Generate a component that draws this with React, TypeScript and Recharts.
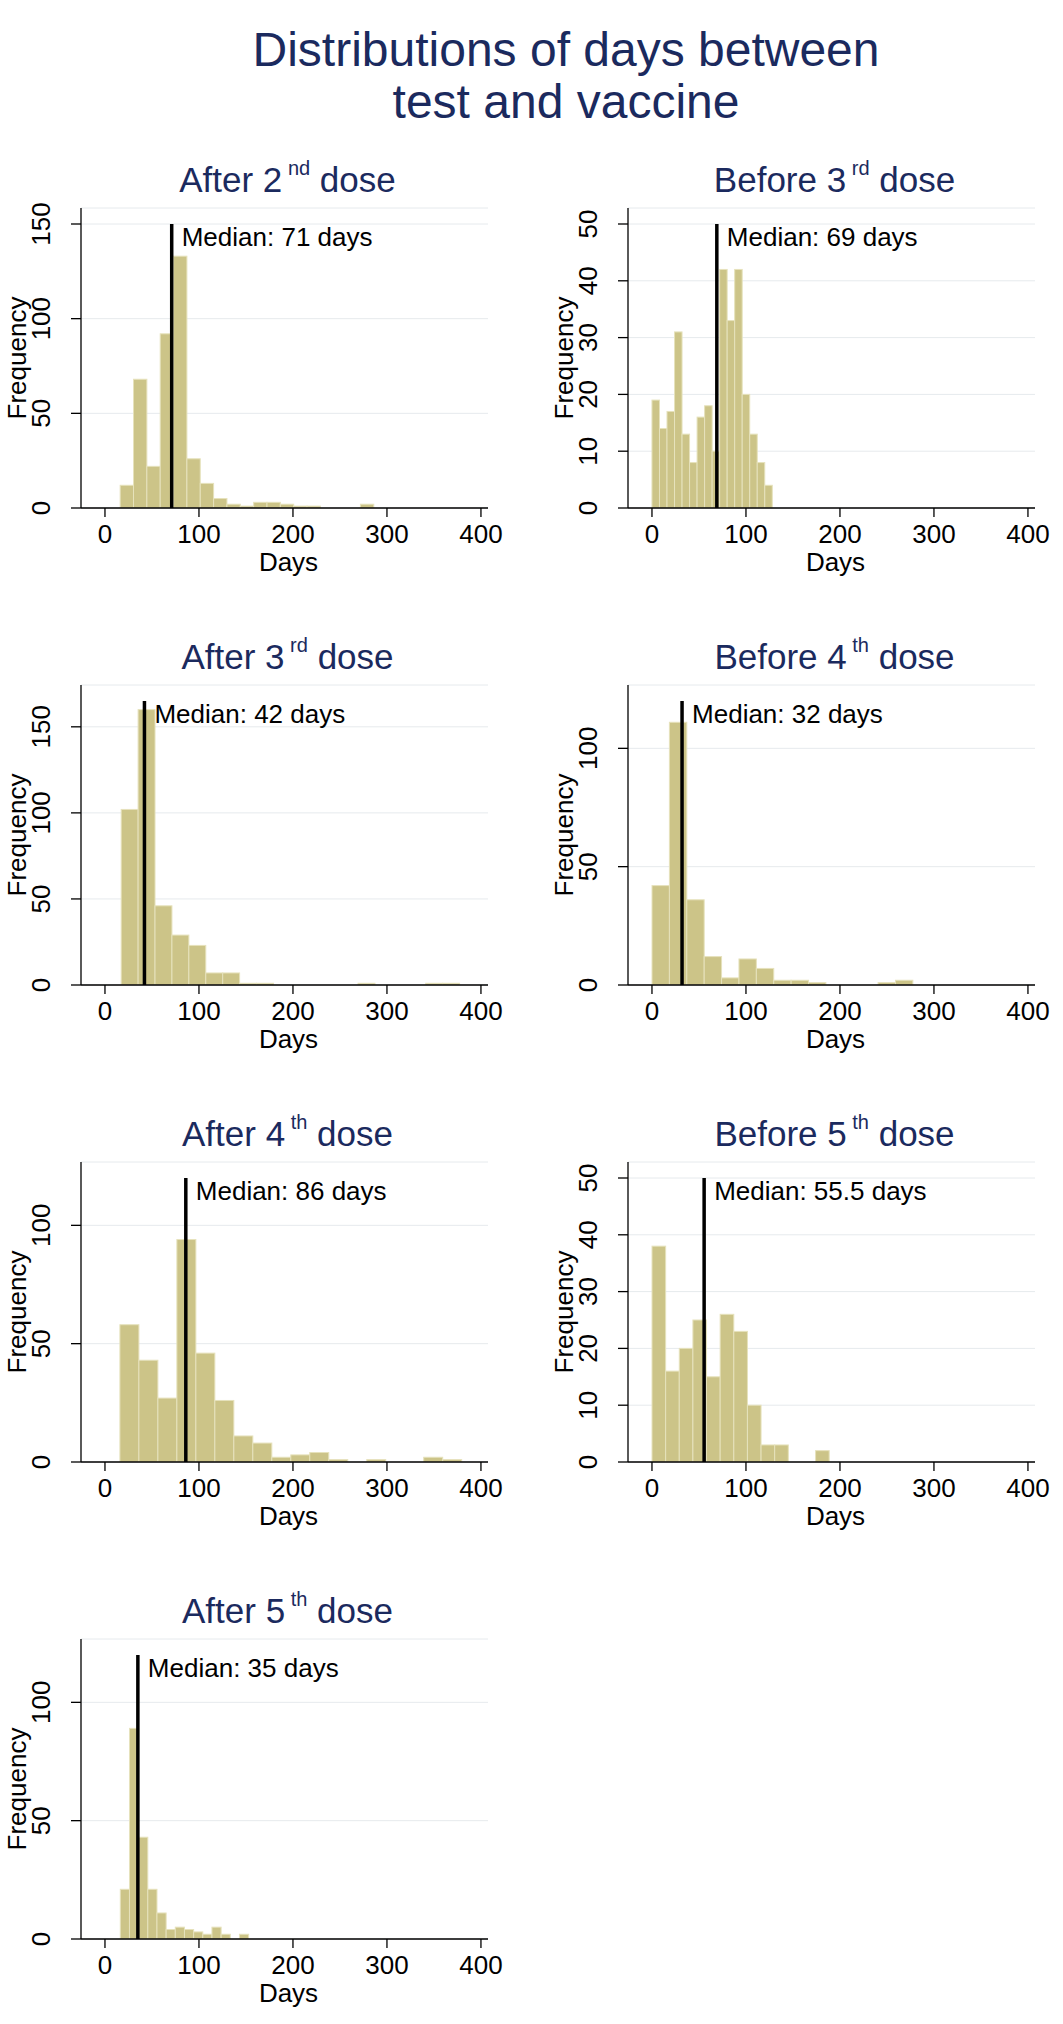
import React from 'react';
import { BarChart, Bar, XAxis, YAxis, CartesianGrid, ReferenceLine } from 'recharts';

const FONT = '"Liberation Sans", Arial, Helvetica, sans-serif';
const NAVY = '#1b2a5e';
const BAR_FILL = '#ccc488';
const BAR_STROKE = '#e6e2bc';

// ---- data (counts per histogram bin) ----
const after2Counts = [12, 68, 22, 92, 133, 26, 13, 5, 2, 1, 3, 3, 2, 1, 1, 0, 0, 0, 2];
const after2Bins = { start: 16, width: 14.2 };
const before3Counts = [19, 14, 17, 31, 13, 8, 16, 18, 10, 42, 33, 42, 20, 13, 8, 4];
const before3Bins = { start: 0, width: 8 };
const after3Counts = [102, 160, 46, 29, 23, 7, 7, 1, 1, 0, 0, 0, 0, 0, 1, 0, 0, 0, 1, 1];
const after3Bins = { start: 17, width: 18 };
const before4Counts = [42, 111, 36, 12, 3, 11, 7, 2, 2, 1, 0, 0, 0, 1, 2];
const before4Bins = { start: 0, width: 18.5 };
const after4Counts = [58, 43, 27, 94, 46, 26, 11, 8, 2, 3, 4, 1, 0, 1, 0, 0, 2, 1];
const after4Bins = { start: 16, width: 20.2 };
const before5Counts = [38, 16, 20, 25, 15, 26, 23, 10, 3, 3, 0, 0, 2];
const before5Bins = { start: 0, width: 14.5 };
const after5Counts = [21, 89, 43, 21, 11, 4, 5, 4, 3, 2, 5, 2, 0, 2];
const after5Bins = { start: 16.5, width: 9.75 };

const medians = [71, 69, 42, 32, 86, 55.5, 35];
const medianLineTops = [150, 50, 165, 120, 120, 50, 120];
const titleMain = ['After 2', 'Before 3', 'After 3', 'Before 4', 'After 4', 'Before 5', 'After 5'];
const titleSup = ['nd', 'rd', 'rd', 'th', 'th', 'th', 'th'];
const yTicksBig = [0, 50, 100, 150];
const yTicksMid = [0, 50, 100];
const yTicksSmall = [0, 10, 20, 30, 40, 50];
const xTicks = [0, 100, 200, 300, 400];

// ---- layout ----
const X_MIN = -25.5;
const X_MAX = 407.5;
const CHART_W = 530;
const CHART_H = 395;
const MARGIN = { top: 20, right: 42, bottom: 0, left: 0 };
const Y_AXIS_W = 81;
const X_AXIS_H = 75;
const PLOT_W = CHART_W - MARGIN.left - MARGIN.right - Y_AXIS_W;
const PLOT_H = CHART_H - MARGIN.top - MARGIN.bottom - X_AXIS_H;
const PX_PER_DAY = PLOT_W / (X_MAX - X_MIN);
const COL_LEFT = [0, 547];
const FIRST_PLOT_TOP = 208;
const ROW_STEP = 477;
const TOP_PAD = 16;

const buildBins = (bins: { start: number; width: number }, counts: number[]) =>
  counts.map((c, i) => ({ x: bins.start + bins.width * (i + 0.5), count: c }));

const panels = [
  { bins: after2Bins, counts: after2Counts, ticks: yTicksBig, col: 0, row: 0 },
  { bins: before3Bins, counts: before3Counts, ticks: yTicksSmall, col: 1, row: 0 },
  { bins: after3Bins, counts: after3Counts, ticks: yTicksBig, col: 0, row: 1 },
  { bins: before4Bins, counts: before4Counts, ticks: yTicksMid, col: 1, row: 1 },
  { bins: after4Bins, counts: after4Counts, ticks: yTicksMid, col: 0, row: 2 },
  { bins: before5Bins, counts: before5Counts, ticks: yTicksSmall, col: 1, row: 2 },
  { bins: after5Bins, counts: after5Counts, ticks: yTicksMid, col: 0, row: 3 },
].map((p, i) => ({
  ...p,
  data: buildBins(p.bins, p.counts),
  median: medians[i],
  lineTop: medianLineTops[i],
  main: titleMain[i],
  sup: titleSup[i],
}));

const makeShape = (binWidth: number) => (props: any) => {
  const { x, width, y, height, payload } = props;
  if (!payload || !(payload.count > 0) || !(height > 0)) return <g />;
  const w = binWidth * PX_PER_DAY;
  const cx = x + width / 2;
  return (
    <rect x={cx - w / 2} y={y} width={w} height={height} fill={BAR_FILL} stroke={BAR_STROKE} strokeWidth={1} />
  );
};

const YTick = (props: any) => {
  const { x, y, payload } = props;
  const cx = x - 26;
  return (
    <text
      x={cx}
      y={y}
      transform={`rotate(-90 ${cx} ${y})`}
      textAnchor="middle"
      dy="0.36em"
      fontSize={26}
      fontFamily={FONT}
      fill="#000"
    >
      {payload.value}
    </text>
  );
};

function Panel({ p }: { p: any }) {
  const yMax = (p.lineTop * PLOT_H) / (PLOT_H - TOP_PAD);
  return (
    <BarChart width={CHART_W} height={CHART_H} data={p.data} margin={MARGIN}>
      <CartesianGrid vertical={false} stroke="#e6eaed" strokeWidth={1} />
      <XAxis
        type="number"
        dataKey="x"
        domain={[X_MIN, X_MAX]}
        ticks={xTicks}
        interval={0}
        allowDataOverflow
        height={X_AXIS_H}
        tickSize={9}
        tickMargin={8}
        axisLine={{ stroke: '#000', strokeWidth: 1.3 }}
        tickLine={{ stroke: '#000', strokeWidth: 1.3 }}
        tick={{ fontSize: 26, fill: '#000', fontFamily: FONT }}
        label={{
          content: (lp: any) => {
            const vb = lp.viewBox;
            return (
              <text x={vb.x + vb.width / 2 + 4} y={vb.y + 63} textAnchor="middle" fontSize={26} fontFamily={FONT} fill="#000">
                Days
              </text>
            );
          },
        }}
      />
      <YAxis
        type="number"
        domain={[0, yMax]}
        ticks={p.ticks}
        interval={0}
        allowDataOverflow
        width={Y_AXIS_W}
        tickSize={10}
        tickMargin={4}
        axisLine={{ stroke: '#000', strokeWidth: 1.3 }}
        tickLine={{ stroke: '#000', strokeWidth: 1.3 }}
        tick={<YTick />}
        label={{
          content: (lp: any) => {
            const vb = lp.viewBox;
            const bx = vb.x + vb.width - 55;
            const cy = vb.y + vb.height / 2;
            return (
              <text x={bx} y={cy} transform={`rotate(-90 ${bx} ${cy})`} textAnchor="middle" fontSize={26} fontFamily={FONT} fill="#000">
                Frequency
              </text>
            );
          },
        }}
      />
      <Bar dataKey="count" isAnimationActive={false} shape={makeShape(p.bins.width)} />
      <ReferenceLine
        segment={[
          { x: p.median, y: 0 },
          { x: p.median, y: p.lineTop },
        ]}
        stroke="#000"
        strokeWidth={3.5}
        ifOverflow="visible"
        label={{
          content: (lp: any) => {
            const vb = lp.viewBox;
            return (
              <text x={vb.x + 10} y={vb.y + 22} fontSize={26} fontFamily={FONT} fill="#000">
                {`Median: ${p.median} days`}
              </text>
            );
          },
        }}
      />
    </BarChart>
  );
}

export default function App() {
  return (
    <div style={{ position: 'absolute', left: 0, top: 0, width: 1063, height: 2024, background: '#fff', fontFamily: FONT }}>
      {panels.map((p, i) => {
        const plotTop = FIRST_PLOT_TOP + ROW_STEP * p.row;
        return (
          <div key={i} style={{ position: 'absolute', left: COL_LEFT[p.col], top: plotTop - MARGIN.top }}>
            <Panel p={p} />
          </div>
        );
      })}
      <svg width={1063} height={2024} style={{ position: 'absolute', left: 0, top: 0, pointerEvents: 'none' }}>
        <text x={566} y={66} textAnchor="middle" fontSize={48} fontFamily={FONT} fill={NAVY}>
          Distributions of days between
        </text>
        <text x={566} y={118} textAnchor="middle" fontSize={48} fontFamily={FONT} fill={NAVY}>
          test and vaccine
        </text>
        {panels.map((p, i) => {
          const plotTop = FIRST_PLOT_TOP + ROW_STEP * p.row;
          const cx = COL_LEFT[p.col] + MARGIN.left + Y_AXIS_W + PLOT_W / 2 + 3;
          const base = plotTop - 16.5;
          return (
            <text key={i} x={cx} y={base} textAnchor="middle" fontSize={35} fontFamily={FONT} fill={NAVY}>
              <tspan>{p.main}</tspan>
              <tspan fontSize={20} dy={-17}>{` ${p.sup}`}</tspan>
              <tspan dy={17}>{' dose'}</tspan>
            </text>
          );
        })}
      </svg>
    </div>
  );
}
